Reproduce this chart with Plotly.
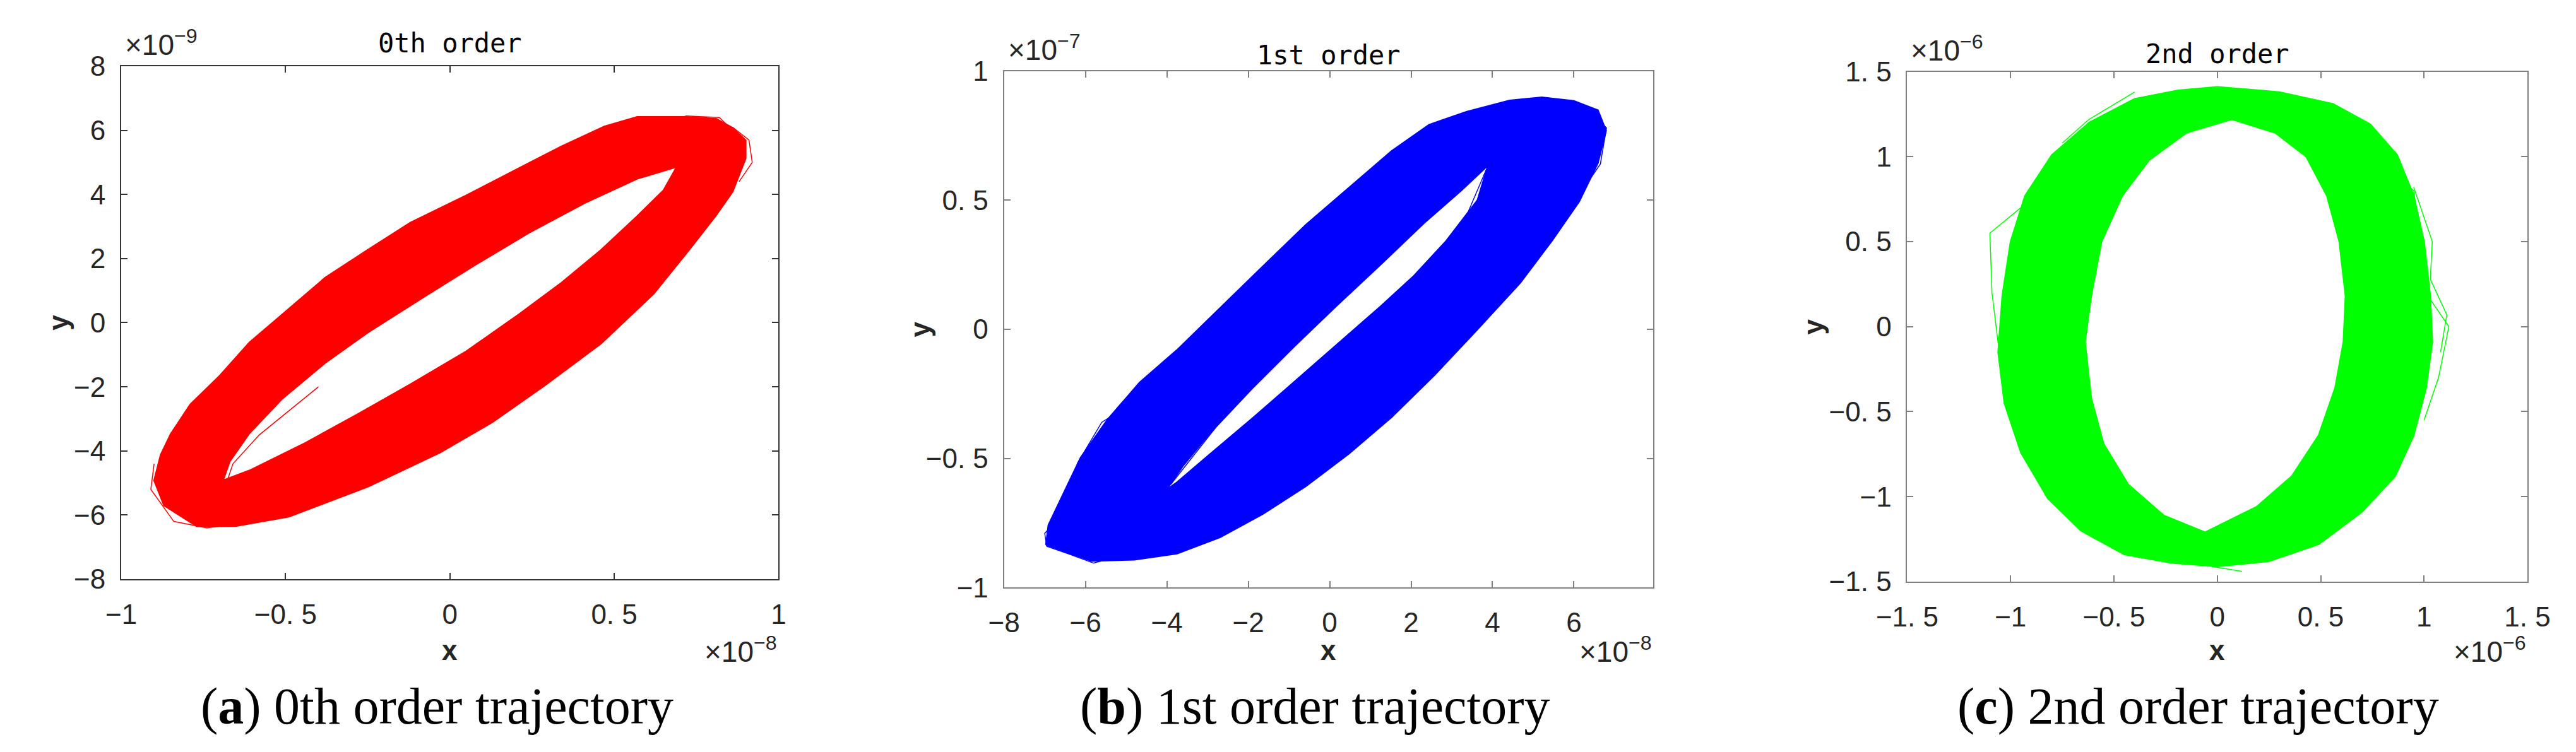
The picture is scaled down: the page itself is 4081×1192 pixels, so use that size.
import plotly.graph_objects as go

# trajectory band outlines (outer edge and inner hole)
# panel a: x in 1e-8, y in 1e-9
a_outer_x = [-0.90, -0.87, -0.77, -0.65, -0.49, -0.25, -0.03, 0.13, 0.29, 0.46, 0.62, 0.73, 0.81, 0.86, 0.90, 0.90,
             0.86, 0.81, 0.72, 0.57, 0.47, 0.34, 0.21, 0.05, -0.12, -0.25, -0.38, -0.51, -0.61, -0.70, -0.79, -0.85, -0.88]
a_outer_y = [-4.92, -5.70, -6.35, -6.34, -6.05, -5.12, -4.05, -3.10, -1.95, -0.65, 0.90, 2.30, 3.35, 4.08, 5.12, 5.69,
             6.08, 6.36, 6.42, 6.42, 6.12, 5.50, 4.82, 3.97, 3.12, 2.27, 1.40, 0.25, -0.62, -1.65, -2.55, -3.48, -4.12]
a_inner_x = [-0.69, -0.67, -0.61, -0.51, -0.38, -0.25, -0.08, 0.08, 0.24, 0.41, 0.57, 0.69,
             0.65, 0.57, 0.46, 0.34, 0.21, 0.05, -0.12, -0.28, -0.44, -0.61]
a_inner_y = [-4.92, -4.33, -3.45, -2.37, -1.26, -0.31, 0.80, 1.82, 2.80, 3.73, 4.49, 4.86,
             4.13, 3.32, 2.27, 1.25, 0.26, -0.89, -1.92, -2.85, -3.75, -4.61]

# panel b: x in 1e-8, y in 1e-7
b_outer_x = [-6.97, -5.85, -4.80, -3.75, -2.69, -1.64, -0.59, 0.47, 1.52, 2.57, 3.63, 4.68, 5.47, 6.13, 6.59, 6.79,
             6.59, 6.00, 5.21, 4.42, 3.36, 2.44, 1.52, 0.47, -0.59, -1.64, -2.69, -3.75, -4.67, -5.46, -6.12, -6.51, -6.91]
b_outer_y = [-0.834, -0.897, -0.892, -0.868, -0.805, -0.715, -0.608, -0.482, -0.340, -0.178, 0.000, 0.180, 0.345,
             0.495, 0.644, 0.769, 0.848, 0.884, 0.898, 0.886, 0.842, 0.792, 0.690, 0.547, 0.404, 0.244, 0.082,
             -0.080, -0.206, -0.350, -0.497, -0.626, -0.758]
b_inner_x = [-4.01, -3.61, -2.96, -1.90, -0.85, 0.20, 1.26, 2.31, 3.23, 3.89,
             3.63, 2.84, 2.05, 1.26, 0.20, -0.85, -1.90, -2.96, -3.75]
b_inner_y = [-0.621, -0.530, -0.405, -0.228, -0.063, 0.096, 0.252, 0.410, 0.537, 0.635,
             0.500, 0.338, 0.204, 0.090, -0.056, -0.200, -0.345, -0.486, -0.592]

# panel c: x and y in 1e-6
c_outer_x = [0.00, 0.30, 0.56, 0.74, 0.87, 0.95, 1.00, 1.03, 1.04, 1.01, 0.95, 0.86, 0.70, 0.49, 0.25, 0.00,
             -0.22, -0.45, -0.66, -0.82, -0.95, -1.03, -1.06, -1.04, -1.00, -0.93, -0.80, -0.62, -0.40, -0.19]
c_outer_y = [1.41, 1.38, 1.31, 1.19, 1.01, 0.77, 0.50, 0.18, -0.09, -0.36, -0.64, -0.88, -1.09, -1.28, -1.38, -1.41,
             -1.39, -1.34, -1.20, -1.01, -0.74, -0.45, -0.15, 0.18, 0.50, 0.77, 1.01, 1.20, 1.34, 1.39]
c_inner_x = [0.07, 0.28, 0.43, 0.53, 0.59, 0.62, 0.61, 0.57, 0.49, 0.36, 0.19, -0.06,
             -0.26, -0.43, -0.55, -0.61, -0.64, -0.61, -0.56, -0.46, -0.33, -0.15]
c_inner_y = [1.22, 1.14, 1.00, 0.77, 0.50, 0.18, -0.09, -0.36, -0.64, -0.88, -1.06, -1.21,
             -1.11, -0.93, -0.69, -0.42, -0.09, 0.18, 0.50, 0.77, 0.98, 1.14]

# stray loops that stick out of the bands or cross the holes
a_stray_x = [0.66, 0.72, 0.82, 0.85, 0.88, None, -0.90, -0.91, -0.84, -0.74, -0.66, None,
             0.86, 0.91, 0.92, 0.88, None, -0.68, -0.66, -0.58, -0.40, None, 0.69, 0.66, 0.58]
a_stray_y = [6.30, 6.45, 6.40, 6.10, 5.60, None, -4.40, -5.20, -6.20, -6.40, -6.30, None,
             6.10, 5.70, 5.00, 4.40, None, -5.00, -4.40, -3.50, -2.00, None, 4.86, 3.90, 3.00]
b_stray_x = [-6.50, -7.00, -6.95, -6.40, -5.80, -5.20, None, 5.80, 6.20, 6.80, 6.65, 6.30,
             None, -4.20, -3.30, -2.70, None, 3.85, 3.20, 2.50, None, -5.30, -5.60, -6.20, None,
             -3.90, -3.10, -2.20]
b_stray_y = [-0.700, -0.790, -0.840, -0.870, -0.905, -0.880, None, 0.880, 0.870, 0.780, 0.640, 0.560,
             None, -0.640, -0.340, -0.300, None, 0.620, 0.380, 0.250, None, -0.330, -0.360, -0.520, None,
             -0.600, -0.440, -0.260]
c_stray_x = [-0.95, -1.10, -1.09, -1.04, None, 0.98, 1.12, 1.07, 1.00, None, -0.40, -0.62, -0.75,
             None, 0.65, 0.95, 0.97, None, 0.12, -0.08, None, 0.95, 1.04, 1.03, 1.11, 1.08,
             None, -0.20, 0.05, 0.30, None, -0.10, 0.10, 0.35]
c_stray_y = [0.70, 0.55, 0.20, -0.30, None, 0.25, 0.00, -0.30, -0.55, None, 1.38, 1.22, 1.08,
             None, 1.10, 0.80, 0.60, None, -1.44, -1.40, None, 0.82, 0.50, 0.28, 0.07, -0.15,
             None, 1.15, 1.24, 1.18, None, -1.24, -1.18, -1.06]

titles = ["0th order", "1st order", "2nd order"]
captions = ["(<b>a</b>) 0th order trajectory", "(<b>b</b>) 1st order trajectory", "(<b>c</b>) 2nd order trajectory"]
x_exp = ["−8", "−8", "−6"]
y_exp = ["−9", "−7", "−6"]

a_xticks = [-1, -0.5, 0, 0.5, 1]
a_xlabels = ["−1", "−0. 5", "0", "0. 5", "1"]
a_yticks = [-8, -6, -4, -2, 0, 2, 4, 6, 8]
a_ylabels = ["−8", "−6", "−4", "−2", "0", "2", "4", "6", "8"]
b_xticks = [-8, -6, -4, -2, 0, 2, 4, 6]
b_xlabels = ["−8", "−6", "−4", "−2", "0", "2", "4", "6"]
b_yticks = [-1, -0.5, 0, 0.5, 1]
b_ylabels = ["−1", "−0. 5", "0", "0. 5", "1"]
c_ticks = [-1.5, -1, -0.5, 0, 0.5, 1, 1.5]
c_labels = ["−1. 5", "−1", "−0. 5", "0", "0. 5", "1", "1. 5"]

W, H = 4081, 1192
TICK_FONT = dict(family="Liberation Sans, Arial, sans-serif", size=44, color="#262626")


def signed_area(xs, ys):
    s = 0.0
    for i in range(len(xs)):
        j = (i + 1) % len(xs)
        s += xs[i] * ys[j] - xs[j] * ys[i]
    return s / 2


def ring(ox, oy, ix, iy):
    # outer and hole with opposite winding so the hole stays empty
    if (signed_area(ox, oy) > 0) == (signed_area(ix, iy) > 0):
        ix, iy = ix[::-1], iy[::-1]
    xs = list(ox) + [ox[0]] + list(ix) + [ix[0]]
    ys = list(oy) + [oy[0]] + list(iy) + [iy[0]]
    return xs, ys


panels = [
    dict(outer=(a_outer_x, a_outer_y), inner=(a_inner_x, a_inner_y), stray=(a_stray_x, a_stray_y),
         color="#FF0000", xr=[-1, 1], yr=[-8, 8], xt=(a_xticks, a_xlabels), yt=(a_yticks, a_ylabels),
         px=(137, 1201), py=(75, 923), line="#333333", title_y=37, ylab_off=102),
    dict(outer=(b_outer_x, b_outer_y), inner=(b_inner_x, b_inner_y), stray=(b_stray_x, b_stray_y),
         color="#0000FF", xr=[-8, 7.95], yr=[-1, 1], xt=(b_xticks, b_xlabels), yt=(b_yticks, b_ylabels),
         px=(1566, 2617), py=(83, 937), line="#808080", title_y=57, ylab_off=137),
    dict(outer=(c_outer_x, c_outer_y), inner=(c_inner_x, c_inner_y), stray=(c_stray_x, c_stray_y),
         color="#00FF00", xr=[-1.5, 1.5], yr=[-1.5, 1.5], xt=(c_ticks, c_labels), yt=(c_ticks, c_labels),
         px=(3028, 4032), py=(84, 927), line="#808080", title_y=55, ylab_off=152),
]
caption_x = [648, 2070, 3499]

fig = go.Figure()
annotations = []
for k, p in enumerate(panels):
    n = "" if k == 0 else str(k + 1)
    xs, ys = ring(*p["outer"], *p["inner"])
    fig.add_trace(go.Scatter(
        x=xs, y=ys, mode="lines", fill="toself", fillcolor=p["color"],
        line=dict(color=p["color"], width=2.5), hoverinfo="skip", showlegend=False,
        xaxis="x" + n, yaxis="y" + n,
    ))
    fig.add_trace(go.Scatter(
        x=p["stray"][0], y=p["stray"][1], mode="lines", line=dict(color=p["color"], width=1.5),
        hoverinfo="skip", showlegend=False, xaxis="x" + n, yaxis="y" + n,
    ))
    x0, x1 = p["px"]
    y0, y1 = p["py"]
    axis_common = dict(showline=True, mirror="ticks", ticks="inside", ticklen=10, tickwidth=2,
                       linecolor=p["line"], tickcolor=p["line"], linewidth=2, showgrid=False,
                       zeroline=False, tickfont=TICK_FONT, tickmode="array", fixedrange=True)
    fig.update_layout(**{
        "xaxis" + n: dict(domain=[x0 / W, x1 / W], range=p["xr"], tickvals=p["xt"][0], ticktext=p["xt"][1],
                          anchor="y" + n, ticklabelstandoff=16, **axis_common),
        "yaxis" + n: dict(domain=[1 - y1 / H, 1 - y0 / H], range=p["yr"], tickvals=p["yt"][0], ticktext=p["yt"][1],
                          anchor="x" + n, ticklabelstandoff=14, **axis_common),
    })
    cx = (x0 + x1) / 2 / W
    annotations += [
        dict(text=titles[k], x=cx, y=1 - p["title_y"] / H, xref="paper", yref="paper", showarrow=False,
             xanchor="center", yanchor="middle", font=dict(family="DejaVu Sans Mono", size=42, color="#000000")),
        dict(text="×10<sup>" + y_exp[k] + "</sup>", x=(x0 + 4) / W, y=1 - (y0 - 6) / H, xref="paper", yref="paper",
             showarrow=False, xanchor="left", yanchor="bottom", font=dict(TICK_FONT, size=46)),
        dict(text="×10<sup>" + x_exp[k] + "</sup>", x=x1 / W, y=1 - 1072 / H, xref="paper", yref="paper",
             showarrow=False, xanchor="right", yanchor="bottom", font=dict(TICK_FONT, size=46)),
        dict(text="<b>x</b>", x=cx, y=1 - 1040 / H, xref="paper", yref="paper", showarrow=False,
             xanchor="center", yanchor="middle", font=dict(family="Liberation Sans", size=44, color="#262626")),
        dict(text="<b>y</b>", x=(x0 - p["ylab_off"]) / W, y=1 - (y0 + y1) / 2 / H, xref="paper", yref="paper",
             showarrow=False, textangle=-90, xanchor="center", yanchor="middle",
             font=dict(family="Liberation Sans", size=44, color="#262626")),
        dict(text=captions[k], x=caption_x[k] / W, y=1 - 1133 / H, xref="paper", yref="paper",
             showarrow=False, xanchor="center", yanchor="middle",
             font=dict(family="Liberation Serif, serif", size=82, color="#000000")),
    ]

fig.update_layout(
    width=W, height=H, margin=dict(l=0, r=0, t=0, b=0),
    paper_bgcolor="white", plot_bgcolor="white", showlegend=False,
    annotations=annotations,
)

fig.write_html("out.html")
